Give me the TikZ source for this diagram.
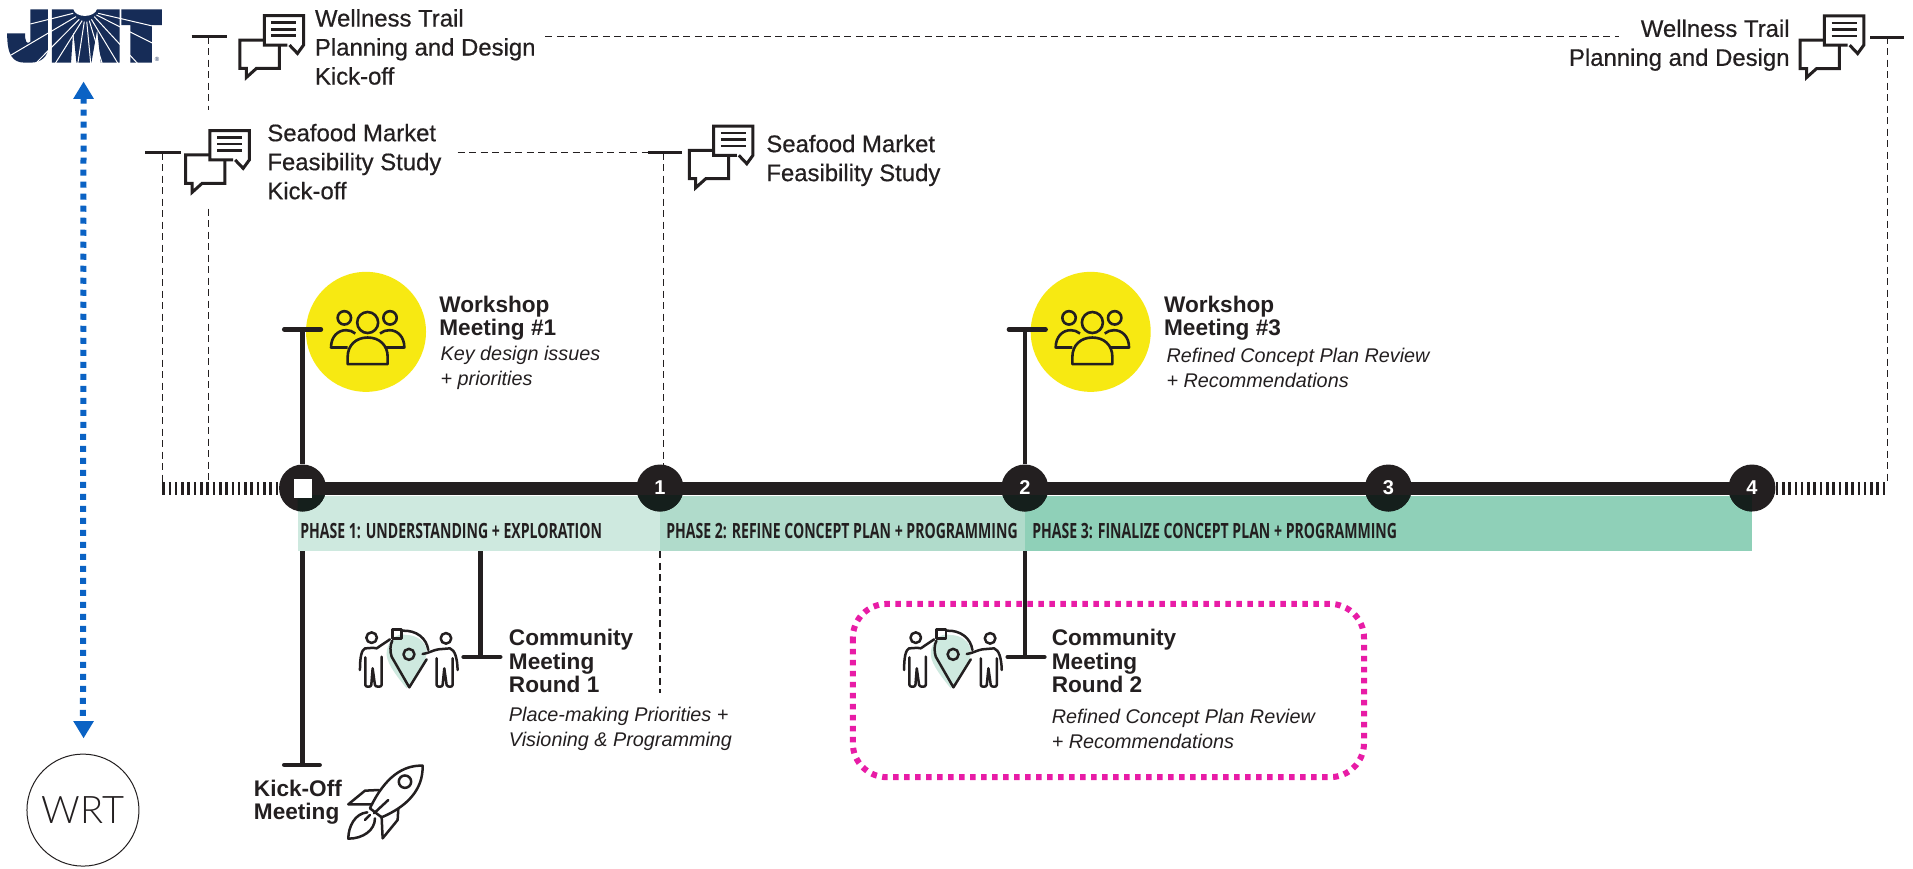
\documentclass[tikz,border=0pt]{standalone}
\usepackage{fontspec}
\setmainfont{Liberation Sans}
\newfontfamily\phasefont[FakeStretch=0.67]{Open Sans}
\newfontfamily\medfont[FakeBold=0.5]{Liberation Sans}
\newfontfamily\lightfont{Lato Light}
\usetikzlibrary{arrows.meta}
\definecolor{ink}{HTML}{231F20}
\definecolor{navy}{HTML}{162C57}
\definecolor{phaseA}{HTML}{CEE9DF}
\definecolor{phaseB}{HTML}{B0DBCB}
\definecolor{phaseC}{HTML}{8FD0B8}
\definecolor{sunny}{HTML}{F7E912}
\definecolor{hotpink}{HTML}{E81CA6}
\definecolor{royal}{HTML}{0A62C4}
\tikzset{
  solidline/.style={draw=ink,line width=4.6pt,line cap=butt},
  tbar/.style={draw=ink,line width=4.6pt,line cap=round},
  dashline/.style={draw=ink,line width=1.5pt,dash pattern=on 7pt off 4.5pt},
  tickline/.style={draw=ink,line width=13pt,dash pattern=on 2.6pt off 3.7pt},
  stepdot/.style={circle,fill=ink,minimum size=47pt,inner sep=0pt,text=white,font=\bfseries\fontsize{20}{20}\selectfont},
  phaselabel/.style={anchor=west,inner sep=0pt,text=ink,font=\phasefont\bfseries\fontsize{21}{24}\selectfont},
  title/.style={anchor=west,inner sep=0pt,text=ink,align=left,font=\medfont\fontsize{23.9}{29}\selectfont},
  headline/.style={anchor=west,inner sep=0pt,text=ink,align=left,font=\bfseries\fontsize{22.6}{23.5}\selectfont},
  subline/.style={anchor=west,inner sep=0pt,text=ink,align=left,font=\itshape\fontsize{19.8}{24.5}\selectfont},
  iconline/.style={draw=ink,line width=3pt,line join=miter,fill=none},
  thinicon/.style={draw=ink,line width=2.5pt,line cap=round,line join=round},
}
\newcommand{\chaticon}[2]{%
  \begin{scope}[shift={(#1,#2)},x=1pt,y=-1pt]
    \draw[iconline] (24.3,24.3)--(0,24.3)--(0,52.7)--(6.4,52.7)--(6.4,61.7)--(16.4,52.7)--(39.3,52.7)--(39.3,29.3);
    \draw[iconline] (47.5,29.3)--(24.3,29.3)--(24.3,0)--(63.6,0)--(63.6,29.3)--(57.5,37.7)--(49.5,29.3);
    \draw[draw=ink,line width=2.6pt] (31.5,7)--(56.5,7) (31.5,13.5)--(56.5,13.5) (31.5,20)--(56.5,20);
  \end{scope}}
\newcommand{\peopleicon}[2]{%
  \begin{scope}[shift={(#1,#2)},x=0.3333pt,y=-0.3333pt]
    \begin{scope}[draw=ink,line width=2.6pt,line join=round]
    \draw (-65,-42) circle[radius=6.7pt];
    \draw (72,-42) circle[radius=6.7pt];
    \draw (5,-28) circle[radius=10.5pt];
    \draw (-55,47) -- (-105,47) .. controls (-105,15) and (-85,-5) .. (-60,-5) .. controls (-50,-5) and (-40,-2) .. (-32,5);
    \draw (60,47) -- (115,47) .. controls (115,15) and (95,-5) .. (70,-5) .. controls (60,-5) and (50,-2) .. (42,5);
    \draw (-55,97) -- (-55,75) .. controls (-55,40) and (-30,17) .. (5,17) .. controls (40,17) and (65,40) .. (65,75) -- (65,97) -- cycle;
    \end{scope}
  \end{scope}}
\newcommand{\meeticon}[2]{%
  \begin{scope}[shift={(#1,#2)},x=0.3333pt,y=-0.3333pt]
    \fill[phaseA] (530,105) .. controls (495,95) and (468,130) .. (470,165) .. controls (472,195) and (510,240) .. (530,265) .. controls (555,230) and (590,190) .. (590,155) .. controls (590,125) and (560,105) .. (530,105) -- cycle;
    \begin{scope}[thinicon]
    \draw (595,150) .. controls (590,115) and (560,90) .. (517,92);
    \draw (487,122) .. controls (480,135) and (480,155) .. (485,170) -- (538,262) -- (590,178);
    \draw (537,163) circle[radius=5.5pt];
    \draw (487,88) rectangle (515,115);
    \draw (425,113) circle[radius=5.3pt];
    \draw (480,118) -- (440,145) .. controls (430,142) and (415,145) .. (405,145) .. controls (395,150) and (390,170) .. (390,210);
    \draw (406,172) -- (406,255) .. controls (406,262) and (424,262) .. (424,255) -- (428,205) -- (435,255) .. controls (437,262) and (455,262) .. (455,255) -- (455,170);
    \draw (648,115) circle[radius=5.3pt];
    \draw (578,162) .. controls (595,160) and (610,150) .. (625,148) -- (660,145) .. controls (675,150) and (682,175) .. (683,210);
    \draw (620,175) -- (620,255) .. controls (620,262) and (638,262) .. (638,255) -- (643,205) -- (650,255) .. controls (652,262) and (668,262) .. (668,255) -- (668,175);
    \end{scope}
  \end{scope}}
\newcommand{\rocketicon}[2]{%
  \begin{scope}[shift={(#1,#2)},x=0.3333pt,y=-0.3333pt]
    \begin{scope}[thinicon]
    \draw (578,497) .. controls (520,495) and (465,530) .. (420,625) -- (455,652) .. controls (530,620) and (580,570) .. (578,497) -- cycle;
    \draw (525,545) circle[radius=6.2pt];
    \draw (447,570) -- (405,572) -- (355,613) -- (425,613);
    \draw (505,628) -- (503,660) -- (458,715) -- (455,650);
    \draw (412,637) .. controls (375,640) and (355,680) .. (355,716) .. controls (400,716) and (435,690) .. (435,655);
    \draw (475,600) -- (432,640);
    \draw (405,660) -- (420,645);
    \end{scope}
  \end{scope}}
\newcommand{\jmtlogo}{%
  \begin{scope}[x=0.3571pt,y=-0.3333pt]
    \fill[navy] (85,28)--(135,28)--(135,140) .. controls (135,170) and (115,188) .. (85,188) -- (70,188) .. controls (35,188) and (20,165) .. (20,100) -- (70,100) .. controls (70,125) and (75,135) .. (85,125) -- cycle;
    \fill[navy] (145,28)--(335,28)--(335,188)--(282,188)--(272,90)--(256,188)--(214,188)--(205,90)--(199,188)--(145,188)--cycle;
    \fill[navy] (340,28)--(453,28)--(453,75)--(425,75)--(425,188)--(365,188)--(365,75)--(340,75)--cycle;
    \fill[white] (205,26) .. controls (210,55) and (265,55) .. (272,26) -- cycle;
    \begin{scope}[draw=white,line width=1pt]
    \draw (205,40)--(85,72) (213,50)--(20,172) (222,58)--(100,190) (230,62)--(155,190) (236,65)--(218,190) (243,65)--(254,190) (250,62)--(286,190) (256,58)--(330,190) (264,50)--(385,190) (275,40)--(455,85) (270,45)--(428,130);
    \draw[line width=1.4pt] (137,26)--(137,190) (338,26)--(338,80);
    \end{scope}
    \node[inner sep=0pt,text=navy,font=\fontsize{6}{6}\selectfont] (regmark) at (440,177) {®};
  \end{scope}}
\begin{document}
\begin{tikzpicture}[x=1.22pt,y=-1.22pt]
\useasboundingbox (0,0) rectangle (1568,711.5);
\fill[white] (0,0) rectangle (1568,711.5);

\jmtlogo

% connector anchor points
\coordinate (wA) at (171,30);
\coordinate (wB) at (171,90);
\coordinate (wC) at (171,171);
\coordinate (wD) at (171,396);
\coordinate (sA) at (133,125);
\coordinate (sD) at (133,396);
\coordinate (wH1) at (447,30);
\coordinate (wH2) at (1327,30);
\coordinate (sH1) at (375,125);
\coordinate (sH2) at (531,125);
\coordinate (sE) at (544,125);
\coordinate (rA) at (1547,30);
\coordinate (rD) at (1547,396);
\coordinate (tL) at (133,400);
\coordinate (tR) at (1547,400);

% phase bands
\fill[phaseA] (244,406.5) rectangle (541,452);
\fill[phaseB] (541,406.5) rectangle (840,452);
\fill[phaseC] (840,406.5) rectangle (1436,452);

% dashed milestones
\draw[dashline] (wA)--(wB) (wC)--(wD) (sA)--(sD) (rA)--(rD) (sE)--(544,385);
\draw[dashline,line width=1pt] (wH1)--(wH2) (sH1)--(sH2);
\coordinate (dB) at (541,452);
\coordinate (dC) at (541,568);
\draw[dashline] (dB)--(dC);

% step dots
\node[stepdot] (n0) at (248,400) {};
\node[stepdot] (n1) at (541,400) {};
\node[stepdot] (n2) at (840,400) {};
\node[stepdot] (n3) at (1138,400) {};
\node[stepdot] (n4) at (1436,400) {};
% timeline
\draw[draw=ink,line width=13pt] (n0.center)--(n4.center);
\draw[tickline] (tL)--(n0.west);
\draw[tickline] (n4.east)--(tR);
% darker overlap of band and dots
\begin{scope}
  \clip (244,406.5) rectangle (1436,452);
  \fill[black!85!phaseC] (n0.center) circle[radius=23.5pt];
  \fill[black!85!phaseC] (n1.center) circle[radius=23.5pt];
  \fill[black!85!phaseC] (n2.center) circle[radius=23.5pt];
  \fill[black!85!phaseC] (n3.center) circle[radius=23.5pt];
  \fill[black!85!phaseC] (n4.center) circle[radius=23.5pt];
\end{scope}
\fill[white] (241,393) rectangle (256,408);
\node[inner sep=0pt,text=white,font=\bfseries\fontsize{20}{20}\selectfont] (l1) at (n1.center) {1};
\node[inner sep=0pt,text=white,font=\bfseries\fontsize{20}{20}\selectfont] (l2) at (n2.center) {2};
\node[inner sep=0pt,text=white,font=\bfseries\fontsize{20}{20}\selectfont] (l3) at (n3.center) {3};
\node[inner sep=0pt,text=white,font=\bfseries\fontsize{20}{20}\selectfont] (l4) at (n4.center) {4};

\node[phaselabel] (p1) at (246,435) {PHASE 1: UNDERSTANDING + EXPLORATION};
\node[phaselabel] (p2) at (546,435) {PHASE 2: REFINE CONCEPT PLAN + PROGRAMMING};
\node[phaselabel] (p3) at (846,435) {PHASE 3: FINALIZE CONCEPT PLAN + PROGRAMMING};

% yellow circles
\node[circle,fill=sunny,minimum size=120pt,inner sep=0pt] (y1) at (300,272) {};
\node[circle,fill=sunny,minimum size=120pt,inner sep=0pt] (y3) at (894,272) {};
\peopleicon{300}{272}
\peopleicon{894}{272}

% T connectors
\coordinate (t1) at (248,270);
\coordinate (t3) at (840,270);
\coordinate (c1) at (394,538.5);
\coordinate (b1) at (394,452);
\coordinate (c2) at (840,538.5);
\coordinate (b2) at (840,452);
\coordinate (k0) at (248,627);
\coordinate (b0) at (248,452);
\draw[solidline] (t1)--(n0.north);
\draw[solidline] (t3)--(n2.north);
\draw[solidline] (b1)--(c1);
\draw[solidline] (b2)--(c2);
\draw[solidline] (b0)--(k0);
\draw[tbar] (233,270)--(263,270);
\draw[tbar] (827,270)--(857,270);
\draw[tbar] (380,538.5)--(410,538.5);
\draw[tbar] (826,538.5)--(856,538.5);
\draw[tbar] (233,627)--(262,627);
\draw[draw=ink,line width=2.6pt] (157,30)--(186,30);
\draw[draw=ink,line width=2.6pt] (119,125)--(148,125);
\draw[draw=ink,line width=2.6pt] (531,125)--(559,125);
\draw[draw=ink,line width=2.6pt] (1533,30.5)--(1561,30.5);

% chat icons
\chaticon{196.7}{12.9}
\chaticon{152.2}{107.1}
\chaticon{565}{103.3}
\chaticon{1475.5}{13}

% community icons and rocket
\meeticon{188.5}{491.8}
\meeticon{634.5}{491.8}
\rocketicon{188.5}{491.8}

% texts
\node[title] (t_w1) at (258,38.5) {Wellness Trail\\Planning and Design\\Kick-off};
\node[title] (t_s1) at (219,132.5) {Seafood Market\\Feasibility Study\\Kick-off};
\node[title] (t_s2) at (628,131.5) {Seafood Market\\Feasibility Study};
\node[title,anchor=east,align=right] (t_w2) at (1467,37) {Wellness Trail\\Planning and Design};
\node[headline] (h_w1) at (360,261) {Workshop\\Meeting \#1};
\node[subline] (s_w1) at (361,301.5) {Key design issues\\+ priorities};
\node[headline] (h_w3) at (954,261) {Workshop\\Meeting \#3};
\node[subline] (s_w3) at (956,301.5) {Refined Concept Plan Review\\+ Recommendations};
\node[headline] (h_c1) at (417,542) {Community\\Meeting\\Round 1};
\node[subline] (s_c1) at (417,597.5) {Place-making Priorities +\\Visioning \& Programming};
\node[headline] (h_c2) at (862,542) {Community\\Meeting\\Round 2};
\node[subline] (s_c2) at (862,597.5) {Refined Concept Plan Review\\+ Recommendations};
\node[headline] (h_k) at (208,657.5) {Kick-Off\\Meeting};

% magenta highlight
\draw[draw=hotpink,line width=6pt,dash pattern=on 5.5pt off 5.5pt,rounded corners=34pt] (699,495) rectangle (1118,637);

% WRT
\node[circle,draw=ink,line width=1pt,minimum size=112pt,inner sep=0pt,fill=white,text=ink,font=\lightfont\fontsize{38}{38}\selectfont] (wrt) at (68,664) {WRT};
\coordinate (logoBase) at (68.5,67);
\draw[draw=royal,line width=6pt,dash pattern=on 6pt off 6pt,shorten <=16pt,shorten >=16pt] (logoBase)--(wrt.north |- 0,605);
\fill[royal] (logoBase)--(60,81)--(77,81)--cycle;
\fill[royal] (68.5,605)--(60,591)--(77,591)--cycle;
\end{tikzpicture}
\end{document}
